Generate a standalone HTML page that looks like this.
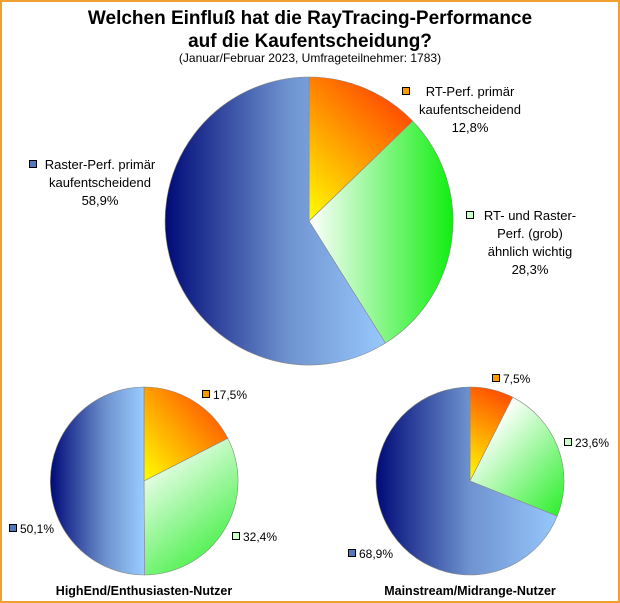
<!DOCTYPE html>
<html><head><meta charset="utf-8"><style>
html,body{margin:0;padding:0;background:#fff}
svg{display:block}
text{font-family:"Liberation Sans",sans-serif;fill:#000}
</style></head><body>
<svg width="620" height="603" viewBox="0 0 620 603" xmlns="http://www.w3.org/2000/svg">
<defs>
<linearGradient id="bM" gradientUnits="userSpaceOnUse" x1="165" y1="0" x2="390" y2="0"><stop offset="0" stop-color="#000a78"/><stop offset="0.55" stop-color="#6f93cf"/><stop offset="1" stop-color="#99ccff"/></linearGradient>
<linearGradient id="oM" gradientUnits="userSpaceOnUse" x1="309" y1="221" x2="412" y2="110"><stop offset="0" stop-color="#ffff00"/><stop offset="1" stop-color="#ff4800"/></linearGradient>
<linearGradient id="gM" gradientUnits="userSpaceOnUse" x1="309" y1="0" x2="453" y2="0"><stop offset="0" stop-color="#ffffff"/><stop offset="1" stop-color="#11ee11"/></linearGradient>
<linearGradient id="bL" gradientUnits="userSpaceOnUse" x1="50" y1="0" x2="144" y2="0"><stop offset="0" stop-color="#000a78"/><stop offset="0.6" stop-color="#6f93cf"/><stop offset="1" stop-color="#99ccff"/></linearGradient>
<linearGradient id="oL" gradientUnits="userSpaceOnUse" x1="144" y1="481" x2="228" y2="410"><stop offset="0" stop-color="#ffff00"/><stop offset="1" stop-color="#ff5000"/></linearGradient>
<linearGradient id="gL" gradientUnits="userSpaceOnUse" x1="150" y1="450" x2="238" y2="560"><stop offset="0" stop-color="#ffffff"/><stop offset="1" stop-color="#33ee33"/></linearGradient>
<linearGradient id="bR" gradientUnits="userSpaceOnUse" x1="376" y1="0" x2="564" y2="0"><stop offset="0" stop-color="#000a78"/><stop offset="0.5" stop-color="#6f93cf"/><stop offset="1" stop-color="#99ccff"/></linearGradient>
<linearGradient id="oR" gradientUnits="userSpaceOnUse" x1="470" y1="481" x2="512" y2="397"><stop offset="0" stop-color="#ffff00"/><stop offset="1" stop-color="#ff5000"/></linearGradient>
<linearGradient id="gR" gradientUnits="userSpaceOnUse" x1="475" y1="440" x2="564" y2="520"><stop offset="0" stop-color="#ffffff"/><stop offset="1" stop-color="#22ee22"/></linearGradient>
</defs>
<rect x="1" y="1" width="618" height="601" fill="#fff" stroke="#f0a030" stroke-width="2"/>
<text x="310" y="24" font-size="19" font-weight="bold" text-anchor="middle">Welchen Einfluß hat die RayTracing-Performance</text>
<text x="310" y="47" font-size="19" font-weight="bold" text-anchor="middle">auf die Kaufentscheidung?</text>
<text x="310" y="62" font-size="12" text-anchor="middle">(Januar/Februar 2023, Umfrageteilnehmer: 1783)</text>

<g stroke="#888" stroke-width="0.6">
<path d="M309 221 L309 77 A144 144 0 0 1 412.7 121.1 Z" fill="url(#oM)"/>
<path d="M309 221 L412.7 121.1 A144 144 0 0 1 385.4 343.1 Z" fill="url(#gM)"/>
<path d="M309 221 L385.4 343.1 A144 144 0 1 1 309 77 Z" fill="url(#bM)"/>
<path d="M144 481 L144 387 A94 94 0 0 1 227.8 438.3 Z" fill="url(#oL)"/>
<path d="M144 481 L227.8 438.3 A94 94 0 0 1 144.6 575 Z" fill="url(#gL)"/>
<path d="M144 481 L144.6 575 A94 94 0 1 1 144 387 Z" fill="url(#bL)"/>
<path d="M470 481 L470 387 A94 94 0 0 1 512.7 397.2 Z" fill="url(#oR)"/>
<path d="M470 481 L512.7 397.2 A94 94 0 0 1 557.2 516.1 Z" fill="url(#gR)"/>
<path d="M470 481 L557.2 516.1 A94 94 0 1 1 470 387 Z" fill="url(#bR)"/>
</g>

<g stroke="#000" stroke-width="1">
<rect x="402.5" y="87.5" width="7" height="7" fill="#ff9900"/>
<rect x="466.5" y="211.5" width="7" height="7" fill="#ccffcc"/>
<rect x="29.5" y="160.5" width="7" height="7" fill="#5577bb"/>
<rect x="202.5" y="390.5" width="7" height="7" fill="#ff9900"/>
<rect x="232.5" y="532.5" width="7" height="7" fill="#ccffcc"/>
<rect x="9.5" y="524.5" width="7" height="7" fill="#5577bb"/>
<rect x="492.5" y="374.5" width="7" height="7" fill="#ff9900"/>
<rect x="564.5" y="438.5" width="7" height="7" fill="#ccffcc"/>
<rect x="348.5" y="549.5" width="7" height="7" fill="#5577bb"/>
</g>
<g font-size="13">
<text x="470" y="96" text-anchor="middle">RT-Perf. primär</text>
<text x="470" y="114" text-anchor="middle">kaufentscheidend</text>
<text x="470" y="132" text-anchor="middle">12,8%</text>
<text x="530" y="220" text-anchor="middle">RT- und Raster-</text>
<text x="530" y="238" text-anchor="middle">Perf. (grob)</text>
<text x="530" y="256" text-anchor="middle">ähnlich wichtig</text>
<text x="530" y="274" text-anchor="middle">28,3%</text>
<text x="100" y="169" text-anchor="middle">Raster-Perf. primär</text>
<text x="100" y="187" text-anchor="middle">kaufentscheidend</text>
<text x="100" y="205" text-anchor="middle">58,9%</text>
</g>
<g font-size="12">
<text x="213" y="399">17,5%</text>
<text x="243" y="541">32,4%</text>
<text x="20" y="533">50,1%</text>
<text x="503" y="383">7,5%</text>
<text x="575" y="447">23,6%</text>
<text x="359" y="558">68,9%</text>
</g>
<text x="144" y="595" font-size="12.5" font-weight="bold" text-anchor="middle">HighEnd/Enthusiasten-Nutzer</text>
<text x="470" y="595" font-size="12.5" font-weight="bold" text-anchor="middle">Mainstream/Midrange-Nutzer</text>
</svg>
</body></html>
